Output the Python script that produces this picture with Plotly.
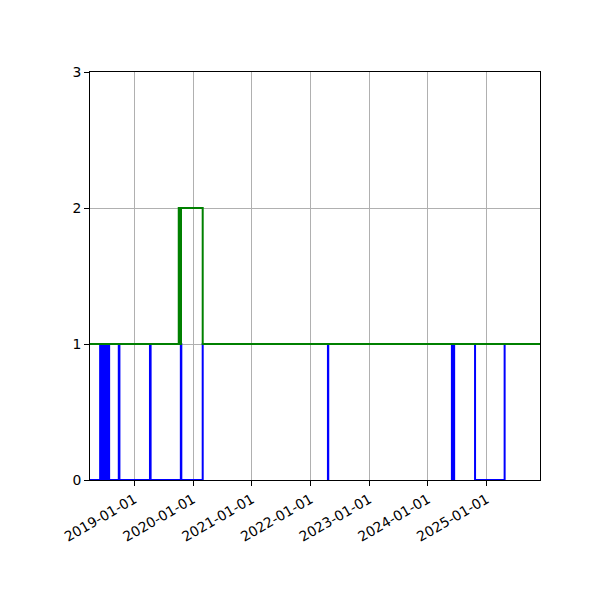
import plotly.graph_objects as go

# Step series: dates where value changes, and value from that date on
blue_dates = [
    "2018-03-31",
    "2018-06-02", "2018-06-08", "2018-06-14", "2018-06-20", "2018-06-27",
    "2018-07-03", "2018-07-09", "2018-07-15", "2018-07-21", "2018-07-28",
    "2018-09-26", "2018-09-30",
    "2019-04-08", "2019-04-12",
    "2019-10-17", "2019-10-20",
    "2020-03-01",
    "2022-04-19", "2022-04-21",
    "2024-05-29", "2024-06-02", "2024-06-08", "2024-06-12",
    "2024-10-20",
    "2025-04-22",
    "2025-11-28",
]
blue_values = [
    0,
    1, 0, 1, 0, 1,
    0, 1, 0, 1, 0,
    1, 0,
    1, 0,
    1, 0,
    1,
    0, 1,
    0, 1, 0, 1,
    0,
    1,
    1,
]

green_dates = [
    "2018-03-31",
    "2019-10-04", "2019-10-11", "2019-10-18",
    "2020-03-01",
    "2025-11-28",
]
green_values = [1, 2, 1, 2, 1, 1]

x_range = ["2018-03-31", "2025-11-28"]
y_ticks = [0, 1, 2, 3]

fig = go.Figure()
fig.add_trace(go.Scatter(x=blue_dates, y=blue_values, mode="lines",
                         line=dict(color="#0000ff", width=2, shape="hv"),
                         showlegend=False, hoverinfo="skip"))
fig.add_trace(go.Scatter(x=green_dates, y=green_values, mode="lines",
                         line=dict(color="#008000", width=2, shape="hv"),
                         showlegend=False, hoverinfo="skip"))

font = dict(family="DejaVu Sans", size=13.9, color="black")
fig.update_layout(
    width=592, height=592,
    margin=dict(l=82, r=60, t=64, b=120),
    paper_bgcolor="white", plot_bgcolor="white",
    font=font,
    xaxis=dict(
        type="date", range=x_range,
        tick0="2019-01-01", dtick="M12", tickformat="%Y-%m-%d",
        tickangle=-30,
        showgrid=True, gridcolor="#b0b0b0", gridwidth=1,
        showline=True, linecolor="black", linewidth=1, mirror=True,
        ticks="outside", ticklen=5, tickcolor="black", tickwidth=1,
        zeroline=False,
    ),
    yaxis=dict(
        range=[0, 3], tickvals=y_ticks,
        showgrid=True, gridcolor="#b0b0b0", gridwidth=1,
        showline=True, linecolor="black", linewidth=1, mirror=True,
        ticks="outside", ticklen=5, tickcolor="black", tickwidth=1,
        zeroline=False,
    ),
)

fig.write_html("out.html")
